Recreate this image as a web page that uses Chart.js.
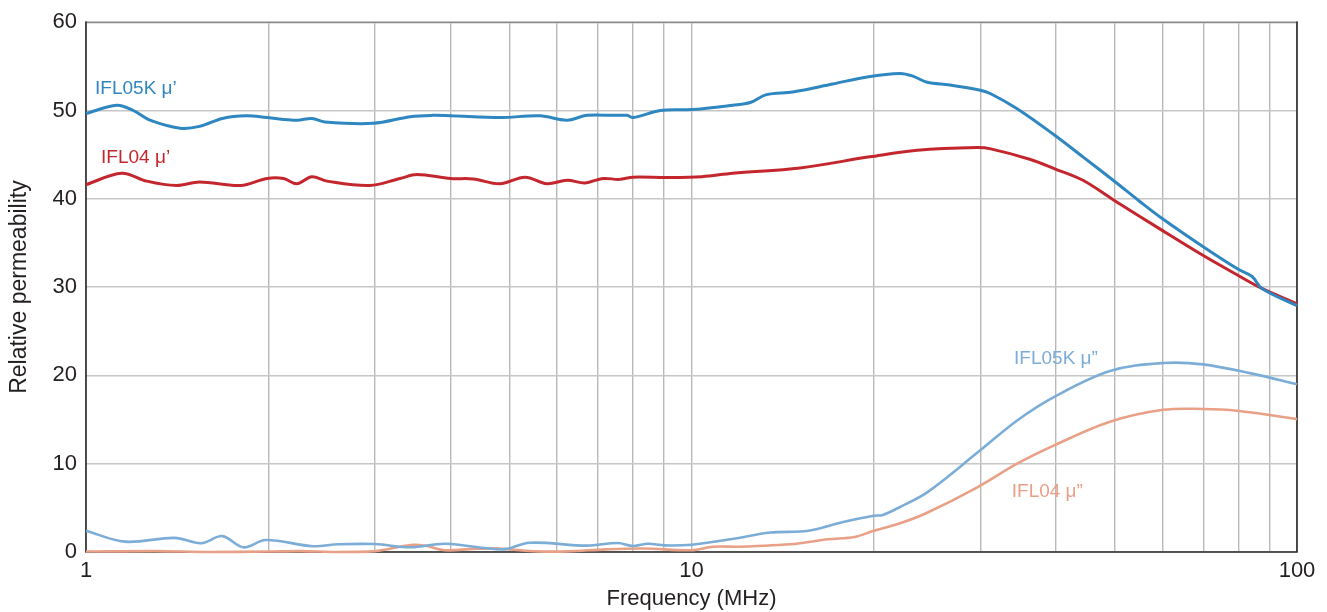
<!DOCTYPE html>
<html>
<head>
<meta charset="utf-8">
<script src="https://cdn.jsdelivr.net/npm/chart.js@4.4.1/dist/chart.umd.min.js"></script>
<style>
  html, body { margin: 0; padding: 0; background: #ffffff; }
  #wrap { width: 1327px; height: 612px; position: relative; }
</style>
</head>
<body>
<div id="wrap"><canvas id="c" width="1327" height="612"></canvas></div>
<script>
// ---- Data (frequency in MHz, relative permeability) ----
const ifl05kReFreq = [1, 1.124, 1.197, 1.275, 1.43, 1.54, 1.68, 1.84, 1.99, 2.23, 2.36, 2.48, 2.98, 3.43, 3.74, 4.0, 4.83, 5.62, 6.23, 6.72, 7.47, 7.83, 8.01, 8.89, 10, 11.7, 12.5, 13.3, 14.7, 17.1, 19.5, 22.1, 23.2, 24.5, 26.7, 30.0, 31.2, 34.5, 39.8, 44.3, 49.7, 55.0, 59.8, 69.9, 79.6, 84.3, 87.5, 100];
const ifl05kRe     = [49.65, 50.6, 50.0, 48.9, 48.0, 48.2, 49.1, 49.4, 49.2, 48.9, 49.1, 48.7, 48.55, 49.3, 49.45, 49.4, 49.2, 49.4, 48.9, 49.45, 49.45, 49.45, 49.2, 50.0, 50.1, 50.6, 50.9, 51.8, 52.1, 53.0, 53.8, 54.2, 53.9, 53.2, 52.9, 52.3, 51.9, 50.2, 47.2, 44.75, 42.1, 39.7, 37.8, 34.6, 32.1, 31.2, 29.85, 27.9];

const ifl04ReFreq = [1, 1.145, 1.26, 1.41, 1.54, 1.80, 1.99, 2.12, 2.23, 2.36, 2.50, 2.94, 3.3, 3.52, 4.0, 4.36, 4.83, 5.31, 5.77, 6.23, 6.67, 7.14, 7.6, 8.01, 9.13, 10.4, 11.7, 15.1, 19.7, 23.6, 29.6, 31.2, 36.3, 39.8, 44.3, 49.7, 59.8, 69.9, 79.6, 87.5, 100];
const ifl04Re     = [41.6, 42.9, 42.0, 41.5, 41.9, 41.5, 42.3, 42.3, 41.7, 42.5, 42.0, 41.5, 42.3, 42.75, 42.3, 42.25, 41.7, 42.45, 41.7, 42.1, 41.8, 42.3, 42.2, 42.45, 42.4, 42.5, 42.9, 43.5, 44.75, 45.5, 45.8, 45.65, 44.45, 43.4, 42.1, 39.9, 36.45, 33.6, 31.4, 29.85, 28.1];

const ifl05kImFreq = [1, 1.16, 1.40, 1.55, 1.68, 1.82, 1.98, 2.37, 2.61, 3.0, 3.44, 3.92, 4.88, 5.40, 6.72, 7.55, 8.01, 8.48, 9.02, 10, 11.67, 13.5, 15.6, 17.8, 20.0, 20.7, 22.1, 24.5, 29.6, 34.5, 39.8, 49.1, 60.1, 69.9, 84.3, 100];
const ifl05kIm     = [2.4, 1.17, 1.6, 1.0, 1.8, 0.53, 1.36, 0.65, 0.87, 0.9, 0.53, 0.94, 0.3, 1.05, 0.72, 1.02, 0.68, 0.94, 0.75, 0.83, 1.47, 2.2, 2.4, 3.4, 4.1, 4.2, 5.1, 6.75, 11.2, 14.9, 17.6, 20.5, 21.4, 21.25, 20.2, 19.0];

const ifl04ImFreq = [1, 1.3, 1.6, 2.0, 2.26, 2.6, 3.0, 3.44, 3.64, 3.92, 4.36, 4.81, 5.09, 5.56, 6.25, 7.22, 8.35, 10, 10.85, 12.0, 14.9, 16.8, 18.6, 20.0, 22.1, 24.5, 29.6, 34.5, 39.8, 49.1, 60.1, 69.9, 79.6, 100];
const ifl04Im     = [0.05, 0.1, 0.0, 0.05, 0.1, 0.0, 0.1, 0.8, 0.7, 0.2, 0.35, 0.4, 0.25, 0.07, 0.07, 0.3, 0.4, 0.2, 0.6, 0.6, 0.94, 1.44, 1.7, 2.4, 3.25, 4.45, 7.3, 10.0, 12.1, 14.75, 16.1, 16.2, 16.0, 15.05];

const seriesNames = ["IFL05K μ’", "IFL04 μ’", "IFL05K μ”", "IFL04 μ”"];
const xTickValues = [1, 2, 3, 4, 5, 6, 7, 8, 9, 10, 20, 30, 40, 50, 60, 70, 80, 90, 100];
const xTickLabels = ["1", "10", "100"];
const yTickValues = [0, 10, 20, 30, 40, 50, 60];
const xTitle = "Frequency (MHz)";
const yTitle = "Relative permeability";
// label anchors in data coordinates (frequency, value)
const labelAnchorFreq = [1.035, 1.059, 34.1, 33.8];
const labelAnchorVal  = [52.5, 44.7, 21.85, 6.8];

const colors = ["#2f87c1", "#c4262e", "#7badd6", "#e8a087"];
const widths = [3, 3, 2.6, 2.6];

const pairs = (xs, ys) => xs.map((x, i) => ({ x: x, y: ys[i] }));
const seriesData = [
  pairs(ifl05kReFreq, ifl05kRe),
  pairs(ifl04ReFreq, ifl04Re),
  pairs(ifl05kImFreq, ifl05kIm),
  pairs(ifl04ImFreq, ifl04Im)
];

const FONT = "'Liberation Sans', Arial, Helvetica, sans-serif";

const framePlugin = {
  id: 'frame',
  beforeDatasetsDraw(chart) {
    const { ctx, chartArea: a } = chart;
    ctx.save();
    ctx.lineCap = 'square';
    ctx.strokeStyle = '#8a8a8a';
    ctx.lineWidth = 1.5;
    ctx.beginPath();
    ctx.moveTo(a.left, a.top); ctx.lineTo(a.right, a.top);
    ctx.stroke();
    ctx.strokeStyle = '#2b2b2b';
    ctx.lineWidth = 1.6;
    ctx.beginPath();
    ctx.moveTo(a.left, a.top); ctx.lineTo(a.left, a.bottom); ctx.lineTo(a.right, a.bottom); ctx.lineTo(a.right, a.top);
    ctx.stroke();
    ctx.restore();
  }
};

const labelPlugin = {
  id: 'seriesLabels',
  afterDatasetsDraw(chart) {
    const { ctx, scales } = chart;
    ctx.save();
    ctx.font = "19px " + FONT;
    ctx.textBaseline = 'middle';
    ctx.textAlign = 'left';
    seriesNames.forEach((name, i) => {
      const px = scales.x.getPixelForValue(labelAnchorFreq[i]);
      const py = scales.y.getPixelForValue(labelAnchorVal[i]);
      ctx.fillStyle = colors[i];
      ctx.fillText(name, px, py);
    });
    ctx.restore();
  }
};

new Chart(document.getElementById('c'), {
  type: 'line',
  data: {
    datasets: seriesData.map((d, i) => ({
      label: seriesNames[i],
      data: d,
      borderColor: colors[i],
      borderWidth: widths[i],
      pointRadius: 0,
      fill: false,
      tension: 0.35,
      clip: 4
    }))
  },
  options: {
    responsive: false,
    animation: false,
    devicePixelRatio: 1,
    layout: { padding: { left: 0, right: 30, top: 22, bottom: 0 } },
    plugins: { legend: { display: false }, tooltip: { enabled: false } },
    scales: {
      x: {
        type: 'logarithmic',
        min: 1, max: 100,
        afterBuildTicks(scale) { scale.ticks = xTickValues.map(v => ({ value: v })); },
        afterFit(scale) { scale.height = 60; },
        ticks: {
          autoSkip: false, maxRotation: 0, minRotation: 0,
          padding: 6,
          color: '#231f20',
          font: { family: FONT, size: 22 },
          callback(value) {
            const idx = [1, 10, 100].indexOf(value);
            return idx >= 0 ? xTickLabels[idx] : '';
          }
        },
        grid: { color: '#b8b8b8', lineWidth: 1.4, drawTicks: false },
        border: { display: false },
        title: {
          display: true, text: xTitle, color: '#231f20',
          font: { family: FONT, size: 22 }, padding: { top: 0, bottom: 0 }
        }
      },
      y: {
        type: 'linear',
        min: 0, max: 60,
        afterBuildTicks(scale) { scale.ticks = yTickValues.map(v => ({ value: v })); },
        afterFit(scale) { scale.width = 86; },
        ticks: {
          padding: 9,
          color: '#231f20',
          font: { family: FONT, size: 22 }
        },
        grid: { color: '#c6c6c6', lineWidth: 1.4, drawTicks: false },
        border: { display: false },
        title: {
          display: true, text: yTitle, color: '#231f20',
          font: { family: FONT, size: 23 }, padding: { top: 6, bottom: 0 }
        }
      }
    }
  },
  plugins: [framePlugin, labelPlugin]
});
</script>
</body>
</html>
